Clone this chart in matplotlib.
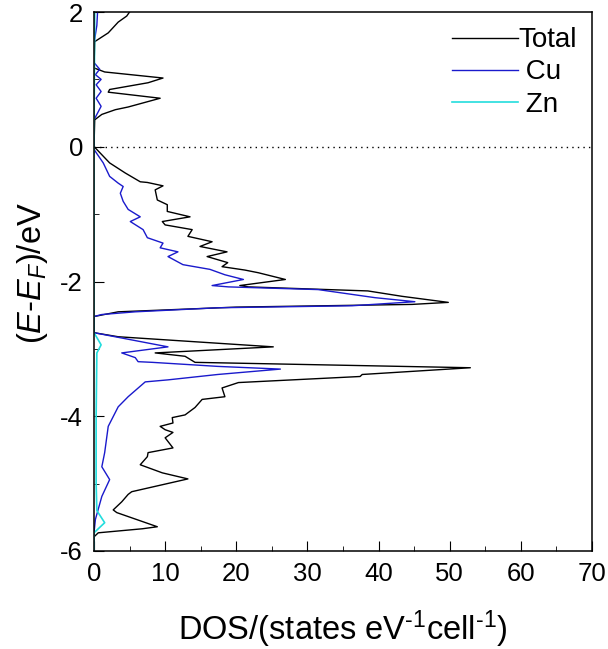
import matplotlib
matplotlib.use("Agg")
import matplotlib.pyplot as plt
from matplotlib.ticker import MultipleLocator

plt.rcParams['font.family'] = ['Liberation Sans', 'DejaVu Sans']
plt.rcParams['mathtext.fontset'] = 'custom'
plt.rcParams['mathtext.rm'] = 'Liberation Sans'
plt.rcParams['mathtext.it'] = 'Liberation Sans:italic'
plt.rcParams['axes.unicode_minus'] = False

total_E = [2.0, 1.94, 1.85, 1.69, 1.56, 1.17, 1.11, 1.02, 0.95, 0.85, 0.81, 0.72, 0.59, 0.55, 0.48, 0.40,
           0.0, -0.03, -0.24, -0.39, -0.52, -0.53, -0.58, -0.64, -0.79, -0.86, -0.96, -1.04, -1.11, -1.16,
           -1.23, -1.33, -1.41, -1.48, -1.56, -1.63, -1.72, -1.78, -1.83, -1.87, -1.97, -2.06, -2.08, -2.14,
           -2.22, -2.31, -2.34, -2.38, -2.45, -2.52, -2.76, -2.82, -2.97, -3.06, -3.11, -3.20, -3.28, -3.38,
           -3.41, -3.50, -3.58, -3.71, -3.75, -3.87, -3.98, -4.02, -4.10, -4.15, -4.20, -4.24, -4.32, -4.47,
           -4.54, -4.60, -4.72, -4.84, -4.93, -5.12, -5.16, -5.27, -5.39, -5.43, -5.64, -5.67, -5.73, -5.79, -6.0]
total_dos = [5.0, 4.6, 3.4, 2.0, 0.1, 0.0, 1.5, 9.7, 7.6, 2.2, 2.0, 9.3, 4.8, 3.0, 1.1, 0.1,
             0.0, 0.3, 2.2, 4.4, 6.5, 7.5, 9.7, 8.6, 8.9, 10.3, 10.3, 13.5, 9.6, 10.0,
             13.8, 13.2, 16.6, 14.9, 18.7, 15.9, 18.8, 18.0, 21.2, 23.1, 26.9, 20.5, 21.7, 38.5,
             43.3, 49.8, 44.7, 20.0, 3.4, 0.0, 0.0, 3.4, 25.2, 8.6, 12.8, 14.2, 52.9, 37.7,
             37.4, 20.3, 18.0, 18.4, 15.2, 14.2, 12.8, 11.0, 11.1, 9.3, 10.0, 11.1, 10.0, 11.1,
             7.6, 7.5, 6.5, 9.6, 13.2, 5.3, 4.8, 3.9, 2.7, 3.2, 8.9, 6.8, 0.6, 0.0, 0.0]

cu_E = [2.0, 1.8, 1.6, 1.5, 1.25, 1.15, 1.07, 1.0, 0.92, 0.82, 0.72, 0.6, 0.5, 0.4, 0.0, -0.04,
        -0.24, -0.44, -0.54, -0.59, -0.69, -0.81, -0.93, -1.04, -1.11, -1.23, -1.35, -1.43, -1.50, -1.56,
        -1.63, -1.75, -1.82, -1.90, -1.97, -2.06, -2.08, -2.12, -2.24, -2.30, -2.36, -2.39, -2.45, -2.49,
        -2.52, -2.76, -2.97, -3.06, -3.13, -3.19, -3.20, -3.26, -3.30, -3.38, -3.46, -3.49, -3.71, -3.86,
        -4.15, -4.54, -4.75, -4.94, -5.19, -5.53, -5.73, -6.0]
cu_dos = [0.5, 0.4, 0.1, 0.0, 0.0, 0.8, 0.2, 1.0, 0.3, 1.0, 0.3, 1.0, 0.5, 0.0, 0.0, 0.0,
          1.3, 2.2, 3.4, 4.1, 3.7, 4.1, 4.8, 6.5, 5.1, 6.9, 7.5, 9.7, 9.3, 11.8,
          10.4, 12.5, 16.3, 18.4, 21.0, 16.6, 18.9, 31.5, 39.5, 45.1, 36.3, 17.4, 5.8, 1.1,
          0.0, 0.0, 10.4, 3.9, 5.8, 6.2, 8.2, 17.4, 26.2, 17.4, 10.4, 7.2, 4.8, 3.4,
          2.0, 1.5, 1.1, 2.2, 1.1, 0.2, 0.0, 0.0]

zn_E = [2.0, 0.0, -2.76, -2.94, -3.06, -4.0, -5.0, -5.4, -5.58, -5.73, -6.0]
zn_dos = [0.1, 0.0, 0.0, 1.0, 0.4, 0.3, 0.3, 0.4, 1.5, 0.0, 0.0]

fig = plt.figure(figsize=(6.08, 6.49), dpi=100)
ax = fig.add_axes([94/608, 1-551/649, (592-94)/608, (551-12)/649])

ax.plot(total_dos, total_E, color='black', lw=1.0, label='Total')
ax.plot(cu_dos, cu_E, color='#1a1acc', lw=1.0, label=' Cu')
ax.plot(zn_dos, zn_E, color='#22dddd', lw=1.2, label=' Zn')
ax.plot([0, 70], [0, 0], color='black', lw=1.0, ls=(0, (1, 3)))

ax.set_xlim(0, 70)
ax.set_ylim(-6, 2)
ax.xaxis.set_major_locator(MultipleLocator(10))
ax.xaxis.set_minor_locator(MultipleLocator(5))
ax.yaxis.set_major_locator(MultipleLocator(2))
ax.yaxis.set_minor_locator(MultipleLocator(1))
ax.tick_params(which='both', direction='in', top=False, right=False, labelsize=18.5, pad=8)
ax.tick_params(which='major', length=7)
ax.tick_params(which='minor', length=3.5)
for s in ax.spines.values():
    s.set_linewidth(1.1)

ax.set_xlabel(r'DOS/(states eV$^{\text{-}1}$cell$^{\text{-}1}$)', fontsize=23.5, labelpad=16)
ax.set_ylabel(r'($\mathit{E}$-$\mathit{E}_\mathit{F}$)/eV', fontsize=23.5)
ax.yaxis.set_label_coords(-0.088, 0.515)

ax.legend(loc='upper right', frameon=False, fontsize=20, handlelength=2.4,
          handletextpad=0.0, labelspacing=0.22, borderaxespad=0.15)

fig.savefig('out.png', dpi=100)
